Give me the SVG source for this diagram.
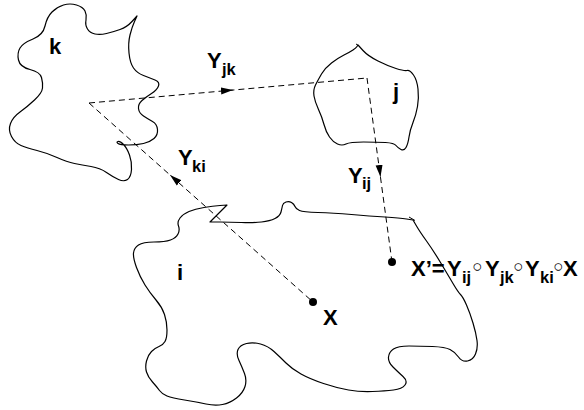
<svg xmlns="http://www.w3.org/2000/svg" width="584" height="410" viewBox="0 0 584 410">
<style>
.blob{fill:none;stroke:#000;stroke-width:1.2;stroke-linejoin:round}
.dash{fill:none;stroke:#000;stroke-width:1;stroke-dasharray:6,4}
.lbl{font-family:"Liberation Sans",Arial,sans-serif;font-weight:bold;font-size:22px;fill:#000}
.sub{font-family:"Liberation Sans",Arial,sans-serif;font-weight:bold;font-size:16.5px;fill:#000}
.ring{font-family:"Liberation Sans",Arial,sans-serif;font-size:17px;fill:#000}
.tick{stroke:#000;stroke-width:1;fill:none}
</style>
<defs>
<marker id="ah" markerUnits="userSpaceOnUse" markerWidth="13" markerHeight="8" viewBox="-12 -4 13 8" refX="0" refY="0" orient="auto">
<path d="M0,0 L-12,-3.5 L-12,3.5 Z" fill="#000"/>
</marker>
</defs>
<g id="node-k">
<path class="blob" d="M63.5,5 Q70,3 76.5,5 Q83,7 85,11 Q87,15 86,20 Q85,25 87.5,29 Q90,33 95,34 Q100,35 106.5,33.5 Q113,32 120,29.5 Q127,27 132,21.5 L137,16 L134.5,21.5 Q132,27 130,35 Q128,43 129,53 Q130,63 133.5,68 Q137,73 143.5,75.5 Q150,78 155,80 Q160,82 158.5,86 Q157,90 151.5,93.5 Q146,97 142,100.5 Q138,104 138.5,108.5 Q139,113 143.5,116 Q148,119 152.5,121.5 Q157,124 157.5,129.5 Q158,135 154,138.5 Q150,142 143.5,143.5 Q137,145 128.5,145 Q120,145 118,143.5 Q116,142 118,141.5 Q120,141 123.5,144.5 Q127,148 129.5,155 Q132,162 131.5,169.5 Q131,177 127.5,179.5 Q124,182 118.5,179.5 Q113,177 106.5,172.5 Q100,168 91,166.5 Q82,165 74.5,163.5 Q67,162 57,157.5 Q47,153 37,150.5 Q27,148 21,145.5 Q15,143 11.5,136.5 Q8,130 10.5,123.5 Q13,117 20,112 Q27,107 34.5,100 Q42,93 42.5,88 Q43,83 41.5,77.5 Q40,72 30,69.5 Q20,67 18.5,60 Q17,53 20,48 Q23,43 33,39 Q43,35 45,26 Q47,17 52,12 Q57,7 63.5,5 Z"/>
<text class="lbl" x="49" y="54">k</text>
</g>
<g id="node-j">
<path class="blob" d="M358,45 L363,50.5 Q368,56 378,61 Q388,66 396,68.5 Q404,71 407,70.5 Q410,70 413.5,75 Q417,80 418,89 Q419,98 417.5,106.5 Q416,115 413,122.5 Q410,130 409,137 Q408,144 406,147.5 Q404,151 401,149.5 Q398,148 396,145.5 Q394,143 385.5,142.5 Q377,142 363.5,142 Q350,142 346,144 Q342,146 337.5,144 Q333,142 329.5,137 Q326,132 324,124.5 Q322,117 318.5,109.5 Q315,102 314,96 Q313,90 315.5,85 Q318,80 321.5,74 Q325,68 331.5,63 Q338,58 344,55 Q350,52 353,50 Q356,48 357,46.5 L358,45 Z"/>
<path class="tick" d="M356,44 L358.5,45.5"/>
<text class="lbl" x="393" y="99">j</text>
</g>
<g id="node-i">
<path class="blob" d="M210,222 L220,222 Q230,222 241.5,222.5 Q253,223 261.5,222 Q270,221 275,218.5 Q280,216 281,212 Q282,208 282.5,205.5 Q283,203 286,202 Q289,201 291.5,202.5 Q294,204 295,206.5 Q296,209 299.5,210.5 Q303,212 318,212.5 Q333,213 351.5,214.5 Q370,216 385,217 Q400,218 406.5,219 L413,220 L416.5,226 Q420,232 426.5,241 Q433,250 440.5,262.5 Q448,275 453,283.5 Q458,292 460.5,294.5 Q463,297 466.5,305 Q470,313 473,323 Q476,333 477,340.5 Q478,348 475.5,354 Q473,360 467.5,361 Q462,362 458.5,357 Q455,352 450,349.5 Q445,347 432.5,346.5 Q420,346 409,346 Q398,346 393.5,349 Q389,352 388.5,357 Q388,362 393,367 Q398,372 403,376.5 Q408,381 405,385 Q402,389 393.5,390 Q385,391 372.5,391.5 Q360,392 348.5,390 Q337,388 323.5,383.5 Q310,379 301,374 Q292,369 286,363 Q280,357 274,351.5 Q268,346 260.5,344 Q253,342 246.5,343.5 Q240,345 238,349.5 Q236,354 239,360.5 Q242,367 244.5,373.5 Q247,380 245,386.5 Q243,393 236.5,398 Q230,403 222.5,404.5 Q215,406 206,404 Q197,402 184.5,400 Q172,398 167,396 Q162,394 159.5,390.5 Q157,387 152.5,382 Q148,377 146.5,372 Q145,367 146.5,361 Q148,355 151.5,351.5 Q155,348 159,346.5 Q163,345 165,341.5 Q167,338 167,330 Q167,322 164.5,314.5 Q162,307 156,300 Q150,293 145,285 Q140,277 136.5,267.5 Q133,258 133.5,253 Q134,248 138.5,245 Q143,242 154,242 Q165,242 170.5,240 Q176,238 178,234 Q180,230 178.5,226 Q177,222 180,218 Q183,214 189,211.5 Q195,209 204,207.5 Q213,206 220,205.5 L227,205 Z"/>
<path class="tick" d="M409,217 L415,220.5"/>
<text class="lbl" x="177" y="280">i</text>
</g>
<g id="point-X">
<circle cx="313" cy="302" r="4" fill="#000"/>
<text class="lbl" x="323" y="325">X</text>
</g>
<g id="point-Xprime">
<circle cx="392" cy="262" r="4" fill="#000"/>
<text class="lbl" x="411" y="276">X’=</text>
<text class="lbl" x="447" y="276">Y</text>
<text class="sub" x="462" y="283">ij</text>
<text class="ring" x="477.5" y="272" text-anchor="middle">○</text>
<text class="lbl" x="485" y="276">Y</text>
<text class="sub" x="500" y="283">jk</text>
<text class="ring" x="518.5" y="272" text-anchor="middle">○</text>
<text class="lbl" x="525" y="276">Y</text>
<text class="sub" x="540" y="283">ki</text>
<text class="ring" x="558.5" y="272" text-anchor="middle">○</text>
<text class="lbl" x="563" y="276">X</text>
</g>
<g id="connectors">
<path class="dash" d="M89,103 L367,78"/>
<path class="dash" d="M367,78 L392,262"/>
<path class="dash" d="M89,103 L313,302"/>
<path d="M231,90.2 L233,90.05" stroke="#000" stroke-width="0.5" marker-end="url(#ah)"/>
<path d="M380.2,174.5 L380.5,177" stroke="#000" stroke-width="0.5" marker-end="url(#ah)"/>
<path d="M171.5,176.3 L170,175" stroke="#000" stroke-width="0.5" marker-end="url(#ah)"/>
<text class="lbl" x="207" y="68">Y</text>
<text class="sub" x="222" y="75">jk</text>
<text class="lbl" x="178" y="165">Y</text>
<text class="sub" x="192" y="172">ki</text>
<text class="lbl" x="348" y="183">Y</text>
<text class="sub" x="362" y="189">ij</text>
</g>
</svg>
